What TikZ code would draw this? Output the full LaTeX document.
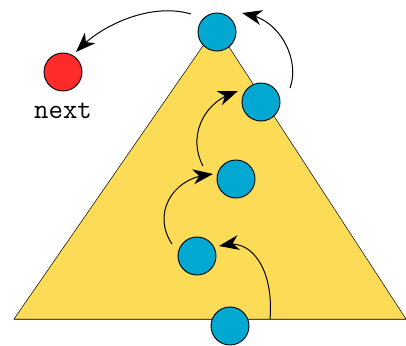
\documentclass[tikz,border=0pt]{standalone}
\definecolor{triyellow}{RGB}{252,219,86}
\definecolor{ballblue}{RGB}{0,168,210}
\definecolor{ballred}{RGB}{255,42,42}
\begin{document}
\begin{tikzpicture}[x=1pt,y=1pt,
  ball/.style={circle,draw=black,line width=0.9pt,minimum size=38pt,inner sep=0pt,fill=ballblue},
  redball/.style={ball,fill=ballred},
  hop/.style={line width=1pt,shorten >=8pt},
  headpic/.pic={\fill[black] (0,0) -- (-20,7.5) -- (-14,0) -- (-20,-7.5) -- cycle;},
  lbl/.style={font=\ttfamily\fontsize{28}{30}\selectfont,inner sep=0pt}]
\useasboundingbox (0,0) rectangle (406,-345);
\fill[triyellow,draw=black,line width=0.5pt] (14,-319) -- (216,-27) -- (406,-319) -- cycle;
\draw[black!70,line width=0.9pt] (14,-319) -- (406,-319);
\node[ball] (n1) at (217,-32) {};
\node[ball] (n2) at (261,-102) {};
\node[ball] (n3) at (236,-179) {};
\node[ball] (n4) at (197,-256) {};
\node[ball] (n5) at (230,-326) {};
\node[redball] (r) at (63,-72) {};
\node[lbl,anchor=base] (t) at (63,-118) {next};
\coordinate (s1) at (270,-319);
\coordinate (e1) at (219,-246);
\coordinate (s2) at (172,-244);
\coordinate (e2) at (213,-174);
\coordinate (s3) at (203,-166);
\coordinate (e3) at (238,-91);
\coordinate (s4) at (290,-88);
\coordinate (e4) at (242,-13);
\coordinate (s5) at (191,-14);
\coordinate (e5) at (76,-52);
\draw[hop] (s1) .. controls (274,-270) and (252,-240) .. (e1);
\pic[rotate=190] at (e1) {headpic};
\draw[hop] (s2) .. controls (152,-214) and (172,-180) .. (e2);
\pic[rotate=8] at (e2) {headpic};
\draw[hop] (s3) .. controls (188,-138) and (202,-105) .. (e3);
\pic[rotate=21] at (e3) {headpic};
\draw[hop] (s4) .. controls (300,-62) and (282,-22) .. (e4);
\pic[rotate=167] at (e4) {headpic};
\draw[hop] (s5) .. controls (150,-2) and (102,-26) .. (e5);
\pic[rotate=225] at (e5) {headpic};
\end{tikzpicture}
\end{document}
